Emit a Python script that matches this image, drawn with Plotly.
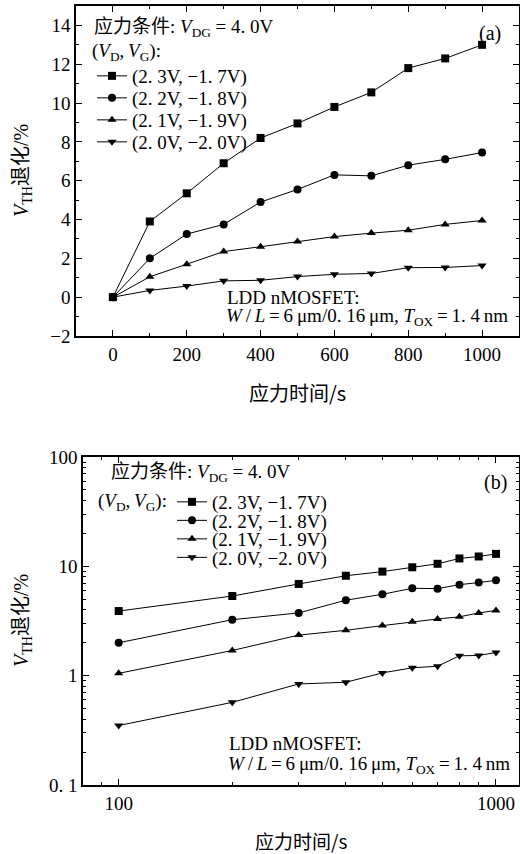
import plotly.graph_objects as go

W, H = 520, 854

# ---- data ----
stress_time = [0, 100, 200, 300, 400, 500, 600, 700, 800, 900, 1000]
series_names = ["(2. 3V, −1. 7V)", "(2. 2V, −1. 8V)", "(2. 1V, −1. 9V)", "(2. 0V, −2. 0V)"]
vth_sq = [0, 3.9, 5.35, 6.9, 8.2, 8.95, 9.8, 10.55, 11.8, 12.3, 13.0]
vth_ci = [0, 2.0, 3.25, 3.75, 4.9, 5.55, 6.3, 6.25, 6.8, 7.1, 7.45]
vth_tu = [0, 1.05, 1.7, 2.35, 2.6, 2.87, 3.12, 3.3, 3.45, 3.75, 3.95]
vth_td = [0, 0.35, 0.57, 0.84, 0.87, 1.06, 1.18, 1.22, 1.52, 1.53, 1.63]
symbols = ["square", "circle", "triangle-up", "triangle-down"]

top_xticks = [0, 200, 400, 600, 800, 1000]
top_yticks = [-2, 0, 2, 4, 6, 8, 10, 12, 14]
log_yticks = [0.1, 1, 10, 100]
log_yticktext = ["0. 1", "1", "10", "100"]
log_xticks = [100, 1000]
log_xticktext = ["100", "1000"]
log_xminor = [90, 200, 300, 400, 500, 600, 700, 800, 900]
log_yminor = [0.2, 0.3, 0.4, 0.5, 0.6, 0.7, 0.8, 0.9, 2, 3, 4, 5, 6, 7, 8, 9,
              20, 30, 40, 50, 60, 70, 80, 90]

FONT = "'Liberation Serif', 'Noto Sans CJK SC', serif"
CJK = "'Noto Sans CJK SC', 'Liberation Serif'"

def px(x):
    return x / W

def py(y):
    return 1 - y / H

# legend row positions (pixels)
top_leg_x = 92
top_leg_rows = [76, 98, 120, 142]
bot_leg_x = 172
bot_leg_rows = [502, 520.5, 539, 557.5]

fig = go.Figure()
all_series = [vth_sq, vth_ci, vth_tu, vth_td]
layout_legends = {}
for i, (name, ys, sym) in enumerate(zip(series_names, all_series, symbols)):
    lname = "legend" if i == 0 else f"legend{i + 1}"
    fig.add_trace(go.Scatter(
        x=stress_time, y=ys, name=name, mode="lines+markers", showlegend=True,
        line=dict(color="black", width=1),
        marker=dict(symbol=sym, size=8, color="black"),
        xaxis="x", yaxis="y", legend=lname))
    layout_legends[lname] = dict(x=px(top_leg_x), y=py(top_leg_rows[i]), xanchor="left",
                                 yanchor="middle", bgcolor="rgba(0,0,0,0)", borderwidth=0,
                                 font=dict(family=FONT, size=19, color="black"))
for i, (name, ys, sym) in enumerate(zip(series_names, all_series, symbols)):
    lname = f"legend{i + 5}"
    fig.add_trace(go.Scatter(
        x=stress_time[1:], y=ys[1:], name=name, mode="lines+markers", showlegend=True,
        line=dict(color="black", width=1),
        marker=dict(symbol=sym, size=8, color="black"),
        xaxis="x2", yaxis="y2", legend=lname))
    layout_legends[lname] = dict(x=px(bot_leg_x), y=py(bot_leg_rows[i]), xanchor="left",
                                 yanchor="middle", bgcolor="rgba(0,0,0,0)", borderwidth=0,
                                 font=dict(family=FONT, size=19, color="black"))

axis_common = dict(showline=True, linecolor="black", linewidth=1.5, mirror="allticks",
                   ticks="inside", ticklen=6, tickwidth=1.2, tickcolor="black",
                   showgrid=False, zeroline=False, automargin=False,
                   tickfont=dict(family=FONT, size=19, color="black"))

fig.update_layout(
    width=W, height=H, autosize=False, margin=dict(l=0, r=0, t=0, b=0, pad=0, autoexpand=False),
    paper_bgcolor="white", plot_bgcolor="white", showlegend=True,
    font=dict(family=FONT, color="black"),
    xaxis=dict(domain=[px(76), px(519)], range=[-100, 1100], tickvals=top_xticks,
               minor=dict(dtick=100, tick0=0, ticks="inside", ticklen=3, tickcolor="black"),
               anchor="y", **axis_common),
    yaxis=dict(domain=[py(336), py(6)], range=[-2, 15], tickvals=top_yticks,
               minor=dict(dtick=1, tick0=0, ticks="inside", ticklen=3, tickcolor="black"),
               anchor="x", **axis_common),
    xaxis2=dict(domain=[px(83), px(519)], type="log", range=[1.9054, 3.061],
                tickvals=log_xticks, ticktext=log_xticktext,
                minor=dict(tickvals=log_xminor, ticks="inside", ticklen=3, tickcolor="black"),
                anchor="y2", **axis_common),
    yaxis2=dict(domain=[py(785), py(457)], type="log", range=[-1, 2],
                tickvals=log_yticks, ticktext=log_yticktext,
                minor=dict(tickvals=log_yminor, ticks="inside", ticklen=3, tickcolor="black"),
                anchor="x2", **axis_common),
    **layout_legends,
)

def ann(text, x, y, size=19, xanchor="left", family=FONT, angle=0):
    fig.add_annotation(text=text, x=px(x), y=py(y), xref="paper", yref="paper",
                       xanchor=xanchor, yanchor="middle", showarrow=False,
                       textangle=angle, font=dict(family=family, size=size, color="black"))

T = "\u2009"
hdr1 = "应力条件: <i>V</i><sub>DG</sub> = 4. 0V"
hdr2 = f"(<i>V</i><sub>D</sub>,{T}<i>V</i><sub>G</sub>):"
dev1 = "LDD nMOSFET:"
dev2 = (f"<i>W</i>{T}/{T}<i>L</i>{T}={T}6{T}μm/0. 16{T}μm, "
        f"<i>T</i><sub>OX</sub>{T}={T}1. 4{T}nm")

# top panel texts
ann(hdr1, 92, 28)
ann(hdr2, 90, 52)
ann("(a)", 490, 33, size=20, xanchor="center")
ann(dev1, 225, 298)
ann(dev2, 224, 317)
ann("应力时间/s", 297, 393, size=20, xanchor="center", family=CJK)
ann("<i>V</i><sub>TH</sub>退化/%", 22, 171, size=20, xanchor="center", angle=-90)

# bottom panel texts
ann(hdr1, 109, 473)
ann(hdr2, 96, 502)
ann("(b)", 495, 483, size=20, xanchor="center")
ann(dev1, 227, 743)
ann(dev2, 226, 765)
ann("应力时间/s", 301, 840, size=19, xanchor="center", family=CJK)
ann("<i>V</i><sub>TH</sub>退化/%", 22, 621, size=20, xanchor="center", angle=-90)

fig.write_html(
    "out.html",
    config={"displayModeBar": False, "responsive": False},
    post_script="document.documentElement.style.margin='0';"
                "document.body.style.margin='0';document.body.style.padding='0';"
                "document.documentElement.style.overflow='hidden';"
                "document.body.style.overflow='hidden';",
)
